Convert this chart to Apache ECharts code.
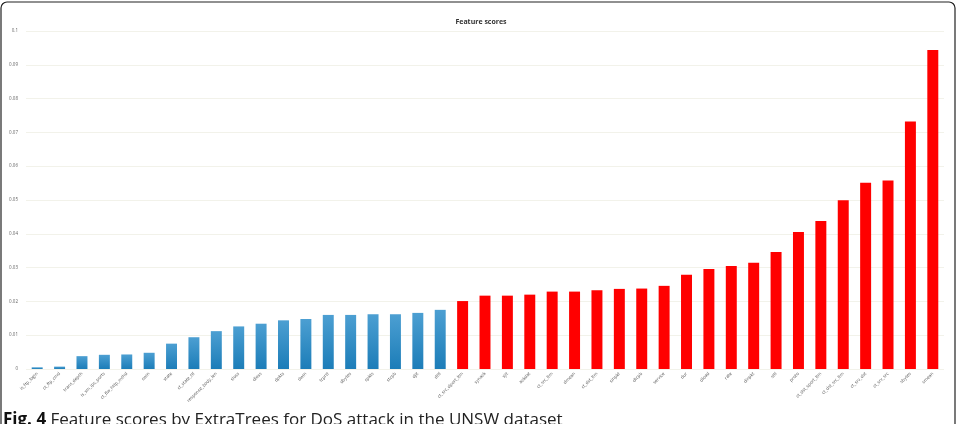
<!DOCTYPE html>
<html>
<head>
<meta charset="utf-8">
<script src="https://cdn.jsdelivr.net/npm/echarts@6/dist/echarts.min.js"></script>
<style>
  html, body { margin: 0; padding: 0; background: #fff; }
  #main { width: 962px; height: 424px; }
</style>
</head>
<body>
<div id="main"></div>
<script>
// feature names, ascending score
var features = [
    'is_ftp_login', 'ct_ftp_cmd', 'trans_depth', 'is_sm_ips_ports', 'ct_flw_http_mthd',
    'swin', 'state', 'ct_state_ttl', 'response_body_len', 'sloss', 'dloss', 'dpkts',
    'dwin', 'tcprtt', 'dbytes', 'spkts', 'stcpb', 'djit', 'dttl',
    'ct_src_dport_ltm', 'synack', 'sjit', 'ackdat', 'ct_src_ltm', 'dmean', 'ct_dst_ltm',
    'sinpkt', 'dtcpb', 'service', 'dur', 'dload', 'rate', 'dinpkt', 'sttl', 'proto',
    'ct_dst_sport_ltm', 'ct_dst_src_ltm', 'ct_srv_dst', 'ct_srv_src', 'sbytes', 'smean'
];
var scores = [
    0.0005, 0.0007, 0.0038, 0.0042, 0.0043, 0.0048, 0.0075, 0.0094, 0.0112, 0.0126,
    0.0134, 0.0144, 0.0148, 0.0160, 0.0160, 0.0162, 0.0162, 0.0166, 0.0175,
    0.0201, 0.0217, 0.0217, 0.0220, 0.0229, 0.0229, 0.0233, 0.0237, 0.0238, 0.0246,
    0.0279, 0.0296, 0.0305, 0.0314, 0.0346, 0.0405, 0.0438, 0.0499, 0.0551, 0.0558,
    0.0732, 0.0944
];
var blueCount = 19;   // first bars drawn blue, rest red
var yTicks = [0, 0.01, 0.02, 0.03, 0.04, 0.05, 0.06, 0.07, 0.08, 0.09, 0.1];

var blueGrad = new echarts.graphic.LinearGradient(0, 0, 0, 1, [
    { offset: 0, color: '#4c9fd2' },
    { offset: 1, color: '#1c7db8' }
]);

var myChart = echarts.init(document.getElementById('main'));

var option = {
    animation: false,
    backgroundColor: '#fff',
    title: {
        text: 'Feature scores',
        left: 'center',
        top: 13,
        textStyle: { fontFamily: 'Open Sans', fontSize: 7, fontWeight: 'bold', color: '#333' }
    },
    grid: { left: 26, right: 18, top: 31, bottom: 55, containLabel: false },
    xAxis: {
        type: 'category',
        data: features,
        axisLine: { show: false },
        axisTick: { show: false },
        axisLabel: {
            interval: 0,
            rotate: 45,
            fontSize: 4.5,
            color: '#555',
            fontFamily: 'Open Sans',
            margin: 4
        }
    },
    yAxis: {
        type: 'value',
        min: yTicks[0],
        max: yTicks[yTicks.length - 1],
        interval: 0.01,
        axisLine: { show: false },
        axisTick: { show: false },
        axisLabel: {
            fontSize: 4.5,
            color: '#666',
            fontFamily: 'Open Sans',
            margin: 8
        },
        splitLine: { lineStyle: { color: '#f2f2ea', width: 1 } }
    },
    series: [{
        type: 'bar',
        barWidth: '49%',
        data: scores,
        itemStyle: {
            color: function (p) {
                return p.dataIndex < blueCount ? blueGrad : '#ff0000';
            }
        }
    }],
    graphic: [
        {
            type: 'rect',
            shape: { x: 1, y: 2, width: 954, height: 440, r: 6 },
            style: { fill: 'none', stroke: '#222', lineWidth: 1.2 },
            silent: true
        },
        {
            type: 'text',
            left: 3,
            top: 412,
            style: {
                text: '{b|Fig. 4} Feature scores by ExtraTrees for DoS attack in the UNSW dataset',
                rich: {
                    b: { fontFamily: 'Open Sans', fontSize: 17, fontWeight: 'bold', fill: '#111' }
                },
                fontFamily: 'Open Sans',
                fontSize: 17,
                fill: '#222'
            }
        }
    ]
};
myChart.setOption(option);
</script>
</body>
</html>
